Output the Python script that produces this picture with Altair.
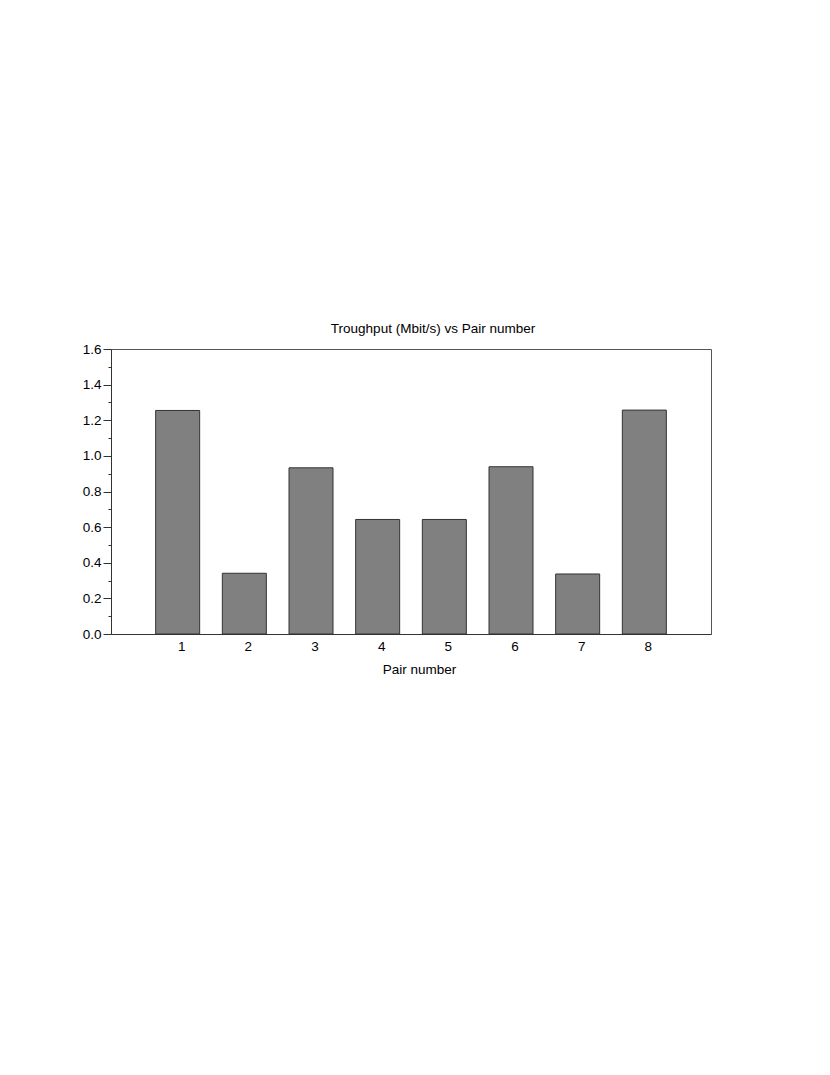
import altair as alt
import pandas as pd

pairs = [1, 2, 3, 4, 5, 6, 7, 8]
throughput = [1.255, 0.341, 0.933, 0.643, 0.643, 0.939, 0.337, 1.257]
y_ticks = [round(i * 0.1, 1) for i in range(17)]
x_ticks = [1, 2, 3, 4, 5, 6, 7, 8]

df = pd.DataFrame({"pair": pairs, "tp": throughput})

FONT = "Liberation Sans"

chart = alt.Chart(df).mark_bar(
    size=44, color="#808080", stroke="#333333", strokeWidth=1
).encode(
    x=alt.X(
        "pair:Q",
        scale=alt.Scale(domain=[0, 9], nice=False, zero=False, padding=0),
        axis=alt.Axis(
            values=x_ticks,
            title="Pair number",
            tickSize=0,
            labelPadding=5,
            labelOffset=3.5,
            labelFontSize=13.5,
            titleFontSize=13.5,
            titleFontWeight="normal",
            titlePadding=10,
            titleX=308,
            grid=False,
            domainColor="#333333",
            labelColor="#000000",
            titleColor="#000000",
        ),
    ),
    y=alt.Y(
        "tp:Q",
        scale=alt.Scale(domain=[0, 1.6], nice=False, padding=0),
        axis=alt.Axis(
            values=y_ticks,
            title=None,
            grid=False,
            labelExpr="round(datum.value*10) % 2 === 0 ? format(datum.value, '.1f') : ''",
            labelOverlap=False,
            tickSize={"condition": {"test": "round(datum.value*10) % 2 === 0", "value": 8}, "value": 3},
            tickColor="#333333",
            labelPadding=2,
            labelFontSize=13.5,
            domainColor="#333333",
            labelColor="#000000",
        ),
    ),
).properties(
    width=600,
    height=285,
    title=alt.TitleParams(
        "Troughput (Mbit/s) vs Pair number",
        anchor="middle",
        dx=22,
        offset=7,
        fontSize=13.5,
        fontWeight="normal",
        font=FONT,
        color="#000000",
    ),
    autosize=alt.AutoSizeParams(type="none"),
    padding={"left": 103, "top": 341, "right": 10, "bottom": 80},
).configure_view(
    stroke="#555555", strokeWidth=1
).configure_axis(
    labelFont=FONT, titleFont=FONT
)

chart.save("out.html", embed_options={"renderer": "svg", "actions": False})
